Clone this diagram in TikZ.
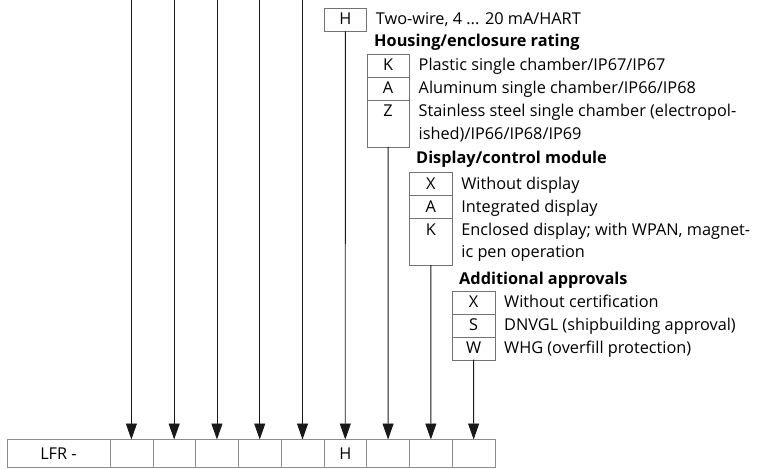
\documentclass[tikz,border=0pt]{standalone}
\usepackage{fontspec}
\setmainfont{Open Sans}
\usetikzlibrary{arrows.meta}
\newcommand\codefont{\fontsize{16.3}{22.5}\selectfont}
\tikzset{
  cell/.style={draw=black!45, minimum width=42.78pt, minimum height=27.5pt, inner sep=0pt, outer sep=0pt},
  optbox/.style={draw=black!55, minimum width=42.78pt, inner sep=0pt, outer sep=0pt,
    text height=16.5pt, text depth=6.5pt, anchor=north},
  tallbox/.style={optbox, text depth=30pt},
  opttext/.style={anchor=base west, inner sep=0pt, align=left},
  heading/.style={anchor=base west, inner sep=0pt, font=\codefont\bfseries},
  conn/.style={draw=black!90, line width=.9pt},
  arrowdown/.style={-{Triangle[length=16pt,width=11pt]}}
}
\begin{document}
\begin{tikzpicture}[x=1pt, y=-1pt, font=\codefont]
    \useasboundingbox (0,0) rectangle (757,470);
    \coordinate (top) at (0,0);

    % order code
    \node[cell, anchor=north west, minimum width=103pt] (c0) at (7,439.5) {LFR -};
    \foreach \i/\code [count=\j from 0] in {1/{},2/{},3/{},4/{},5/{},6/H,7/{},8/{},9/{}}
      \node[cell, anchor=west] (c\i) at (c\j.east) {\code};

    % signal output
    \node[optbox] (out) at (345.3,8.3) {H};
    \node[opttext] (outtext) at ([xshift=9pt]out.base east) {Two-wire, 4 ... 20 mA/HART};

    % housing
    \node[heading] (househead) at (374,46.5) {Housing/enclosure rating};
    \node[optbox] (hK) at (388.1,54.5) {K};
    \node[optbox] (hA) at (hK.south) {A};
    \node[tallbox] (hZ) at (hA.south) {Z};
    \node[opttext] (hKtext) at ([xshift=9pt]hK.base east) {Plastic single chamber/IP67/IP67};
    \node[opttext] (hAtext) at ([xshift=9pt]hA.base east) {Aluminum single chamber/IP66/IP68};
    \node[opttext] (hZtext) at ([xshift=9pt,yshift=-22.5pt]hZ.base east) {Stainless steel single chamber (electropol-\\ished)/IP66/IP68/IP69};

    % display
    \node[heading] (disphead) at (416,164) {Display/control module};
    \node[optbox] (dX) at (430.8,172.7) {X};
    \node[optbox] (dA) at (dX.south) {A};
    \node[tallbox] (dK) at (dA.south) {K};
    \node[opttext] (dXtext) at ([xshift=9pt]dX.base east) {Without display};
    \node[opttext] (dAtext) at ([xshift=9pt]dA.base east) {Integrated display};
    \node[opttext] (dKtext) at ([xshift=9pt,yshift=-22.5pt]dK.base east) {Enclosed display; with WPAN, magnet-\\ic pen operation};

    % approvals
    \node[heading] (apphead) at (459,284) {Additional approvals};
    \node[optbox] (aX) at (473.6,290.7) {X};
    \node[optbox] (aS) at (aX.south) {S};
    \node[optbox] (aW) at (aS.south) {W};
    \node[opttext] (aXtext) at ([xshift=9pt]aX.base east) {Without certification};
    \node[opttext] (aStext) at ([xshift=9pt]aS.base east) {DNVGL (shipbuilding approval)};
    \node[opttext] (aWtext) at ([xshift=9pt]aW.base east) {WHG (overfill protection)};

    % arrows
    \foreach \i in {1,...,5} {
      \coordinate (t\i) at (c\i |- top);
      \draw[conn, arrowdown] (t\i) -- (c\i.north);
    }
    \draw[conn, arrowdown] (out.south) -- (c6.north);
    \draw[conn, arrowdown] (hZ.south) -- (c7.north);
    \draw[conn, arrowdown] (dK.south) -- (c8.north);
    \draw[conn, arrowdown] (aW.south) -- (c9.north);
\end{tikzpicture}
\end{document}
